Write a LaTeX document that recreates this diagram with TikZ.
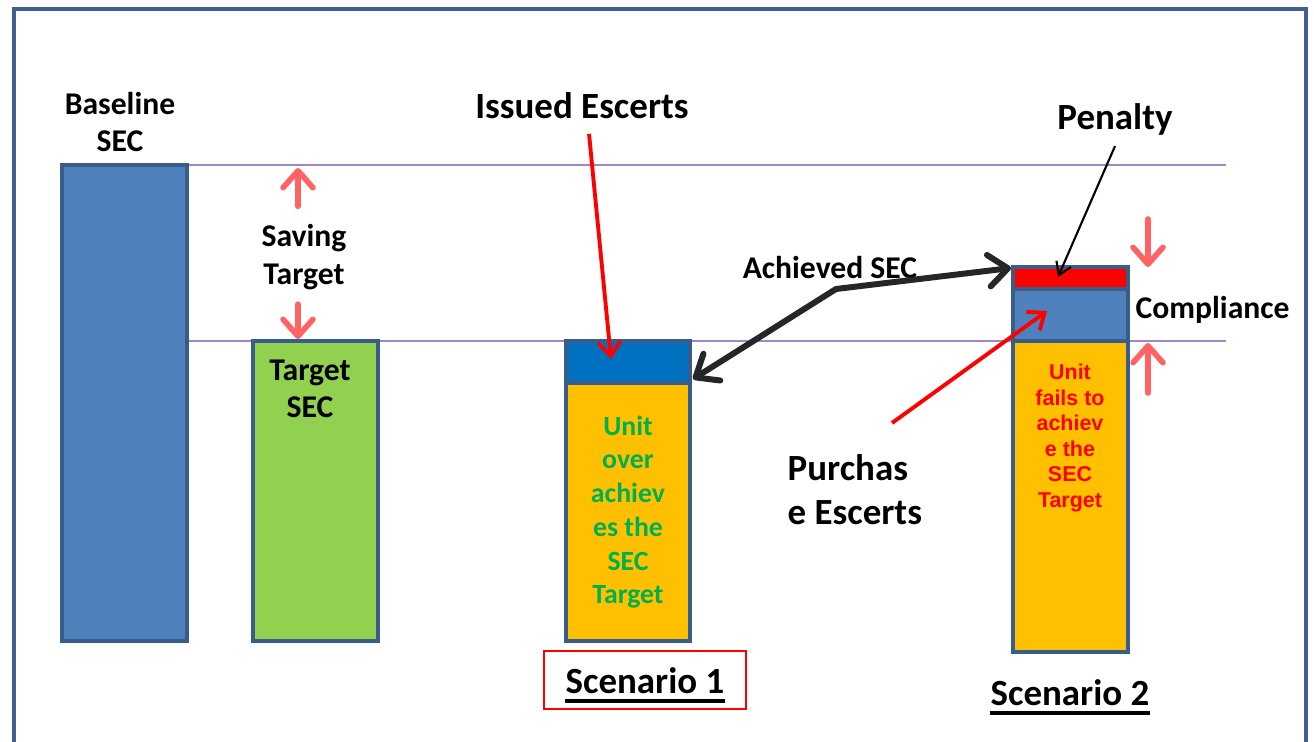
\documentclass[tikz,border=0pt]{standalone}
\usepackage{fontspec}
\setmainfont{Carlito}
\newfontfamily\arialfont{Liberation Sans}
\usepackage{xcolor}
\usetikzlibrary{arrows.meta}

\definecolor{framecol}{RGB}{62,96,146}
\definecolor{barborder}{RGB}{56,93,138}
\definecolor{barblue}{RGB}{79,129,189}
\definecolor{bargreen}{RGB}{146,208,80}
\definecolor{barorange}{RGB}{255,192,0}
\definecolor{issueblue}{RGB}{0,112,192}
\definecolor{gridpurple}{RGB}{160,135,195}
\definecolor{salmon}{RGB}{255,99,99}
\definecolor{textgreen}{RGB}{0,176,80}
\definecolor{darkarrow}{RGB}{38,38,38}

\begin{document}
\begin{tikzpicture}[x=0.01cm,y=-0.01cm,
    bar/.style={draw=barborder,line width=1.4pt},
    level/.style={draw=gridpurple,line width=0.6pt},
    pinkarrow/.style={draw=salmon,line width=1.6pt,line cap=round,-{Straight Barb[length=4.8pt,width=8.5pt,round]}},
    redarrow/.style={draw=red,line width=1.1pt,-{Straight Barb[length=4pt,width=6.5pt]}},
    lbl/.style={font=\bfseries\fontsize{9}{10.6}\selectfont,align=center,inner sep=0pt},
    biglbl/.style={font=\bfseries\fontsize{10.5}{12.5}\selectfont,align=center,inner sep=0pt}]
    \useasboundingbox (0,0) rectangle (1314,742);
    % Frame
    \draw[framecol,line width=1.4pt] (14,742) -- (14,9) -- (1306,9) -- (1306,742);
    % Levels
    \draw[level] (187,165) -- (1226,165);
    \draw[level] (187,341) -- (1226,341);
    % Baseline SEC
    \draw[bar,fill=barblue] (62,165) rectangle (187,641);
    \node[lbl] (baseline) at (120,122) {Baseline\\SEC};
    % Target SEC
    \draw[bar,fill=bargreen] (253,341) rectangle (378,641);
    \node[lbl] (target) at (310,389) {Target\\SEC};
    % Saving target
    \node[lbl] (saving) at (304,257) {Saving\\Target};
    \coordinate (savetop) at (298,168);
    \coordinate (savebot) at (298,339);
    \draw[pinkarrow] ([yshift=5pt]saving.north-|savetop) -- (savetop);
    \draw[pinkarrow] ([yshift=-4pt]saving.south-|savebot) -- (savebot);
    % Scenario 1
    \draw[bar,fill=issueblue] (566,341) rectangle (690,383);
    \draw[bar,fill=barorange] (566,383) rectangle (690,641);
    \node[font=\bfseries\fontsize{7.9}{9.6}\selectfont,text=textgreen,align=center,inner sep=0pt]
        (overtext) at (628,512) {Unit\\over\\achiev\\es the\\SEC\\Target};
    \draw[red,line width=0.55pt] (544,651) rectangle (746,709);
    \node[biglbl,anchor=base] (scenone) at (645,693) {Scenario 1};
    \draw[line width=1.1pt] ([yshift=-2.3pt]scenone.base west) -- ([yshift=-2.3pt]scenone.base east);
    % Scenario 2
    \draw[bar,fill=red] (1013,267) rectangle (1128,289);
    \draw[bar,fill=barblue] (1013,289) rectangle (1128,341);
    \draw[bar,fill=barorange] (1013,341) rectangle (1128,652);
    \node[font=\arialfont\bfseries\fontsize{6.1}{7.25}\selectfont,text=red,align=center,inner sep=0pt]
        (failtext) at (1070,438) {Unit\\fails to\\achiev\\e the\\SEC\\Target};
    \node[biglbl,anchor=base] (scentwo) at (1070,705) {Scenario 2};
    \draw[line width=1.1pt] ([yshift=-2.3pt]scentwo.base west) -- ([yshift=-2.3pt]scentwo.base east);
    % Issued Escerts
    \node[biglbl] (issued) at (582,106) {Issued Escerts};
    \coordinate (issuedto) at (611,359);
    \draw[redarrow] ([xshift=2pt,yshift=-4pt]issued.south) -- (issuedto);
    % Achieved SEC
    \node[lbl] (achieved) at (830,268) {Achieved SEC};
    \coordinate (achleft) at (693,379);
    \coordinate (achbend) at (836,289);
    \coordinate (achright) at (1011,268);
    \draw[darkarrow,line width=1.7pt,line join=round,
        {Straight Barb[length=5.5pt,width=9pt,round]}-{Straight Barb[length=5.5pt,width=9pt,round]}]
        (achleft) -- (achbend) -- (achright);
    % Penalty
    \node[biglbl] (penalty) at (1115,119) {Penalty};
    \coordinate (penaltyto) at (1058,277);
    \draw[black,line width=0.6pt,-{Straight Barb[length=3.5pt,width=4.5pt]}] ([yshift=-3pt]penalty.south) -- (penaltyto);
    % Purchase Escerts
    \node[biglbl,align=left,anchor=west] (purchase) at (787,490) {Purchas\\e Escerts};
    \coordinate (purchasefrom) at (892,423);
    \coordinate (purchaseto) at (1047,311);
    \draw[redarrow] (purchasefrom) -- (purchaseto);
    % Compliance
    \node[lbl,anchor=west] (compliance) at (1135,310) {Compliance};
    \coordinate (comptop) at (1148,219);
    \coordinate (compbot) at (1148,393);
    \draw[pinkarrow] (comptop) -- (1148,267);
    \draw[pinkarrow] (compbot) -- (1148,343);
\end{tikzpicture}
\end{document}
